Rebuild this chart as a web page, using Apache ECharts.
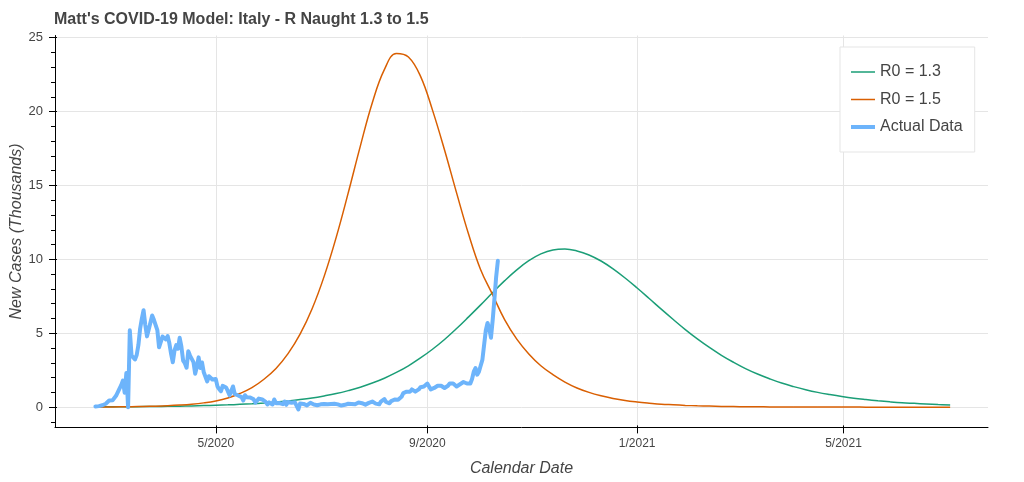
<!DOCTYPE html>
<html>
<head>
<meta charset="utf-8">
<script src="https://cdn.jsdelivr.net/npm/echarts@6/dist/echarts.min.js"></script>
<style>
html,body{margin:0;padding:0;background:#fff;}
#chart{width:1024px;height:482px;}
</style>
</head>
<body>
<div id="chart"></div>
<script>
// ---------- data ----------
const chartTitle = "Matt's COVID-19 Model: Italy - R Naught 1.3 to 1.5";
const seriesNames = ['R0 = 1.3', 'R0 = 1.5', 'Actual Data'];

// model curves: weekly samples starting at modelStart (thousands of cases)
const modelStart = '2020-02-21';
const modelStepDays = 7;
const r13Values = [
  0.017, 0.021, 0.025, 0.031, 0.038, 0.046, 0.057, 0.069, 0.085, 0.104,
  0.127, 0.155, 0.189, 0.231, 0.283, 0.344, 0.42, 0.51, 0.62, 0.76,
  0.92, 1.12, 1.35, 1.63, 1.96, 2.35, 2.80, 3.33, 3.92, 4.58,
  5.32, 6.11, 6.92, 7.76, 8.56, 9.29, 9.91, 10.37, 10.64, 10.70,
  10.57, 10.30, 9.89, 9.36, 8.74, 8.06, 7.35, 6.63, 5.93, 5.25,
  4.62, 4.04, 3.51, 3.04, 2.61, 2.24, 1.92, 1.63, 1.39, 1.18,
  1.00, 0.85, 0.715, 0.60, 0.51, 0.43, 0.36, 0.30, 0.257, 0.216,
  0.18, 0.153
];
const r15Values = [
  0.01, 0.015, 0.022, 0.032, 0.046, 0.067, 0.097, 0.14, 0.20, 0.29,
  0.42, 0.62, 0.92, 1.32, 1.89, 2.62, 3.62, 4.94, 6.66, 8.85,
  11.49, 14.5, 17.65, 20.6, 22.84, 23.94, 23.7, 22.4, 20.1, 17.4,
  14.5, 11.7, 9.3, 7.6, 5.9, 4.6, 3.6, 2.8, 2.2, 1.7,
  1.3, 1.0, 0.77, 0.59, 0.45, 0.35, 0.27, 0.2, 0.16, 0.12,
  0.09, 0.07, 0.05, 0.04, 0.03, 0.023, 0.018, 0.014, 0.01, 0.008,
  0.006, 0.005, 0.004, 0.003, 0.002, 0.002, 0.001, 0.001, 0.001, 0.001,
  0, 0
];

// actual daily new cases (thousands), one value per day from actualStart
const actualStart = '2020-02-21';
const actualValues = [
  // Feb 21 - Feb 29
  0.04, 0.09, 0.07, 0.09, 0.13, 0.20, 0.23, 0.24, 0.45,
  // Mar
  0.34, 0.47, 0.59, 0.77, 0.78, 1.25, 1.49, 1.80, 0.98, 2.31,
  0, 5.20, 3.50, 3.59, 3.23, 3.53, 4.21, 5.32, 5.99, 6.56,
  5.56, 4.79, 5.25, 5.21, 6.20, 5.91, 5.97, 5.22, 4.05, 4.05, 4.78,
  // Apr
  4.67, 4.59, 4.81, 4.32, 3.60, 3.04, 3.84, 4.20, 3.95, 4.69,
  4.09, 3.15, 2.97, 2.67, 3.79, 3.49, 3.49, 3.05, 2.26, 2.73,
  3.37, 2.65, 3.02, 2.36, 2.32, 1.74, 2.09, 2.09, 1.87, 1.97,
  // May
  1.90, 1.39, 1.22, 1.08, 1.44, 1.40, 1.33, 1.08, 0.80, 0.74,
  1.40, 0.89, 0.99, 0.79, 0.88, 0.68, 0.45, 0.81, 0.67, 0.64,
  0.65, 0.67, 0.53, 0.30, 0.40, 0.58, 0.59, 0.52, 0.42, 0.36, 0.18,
  // Jun
  0.32, 0.32, 0.18, 0.52, 0.27, 0.20, 0.28, 0.28, 0.20, 0.38,
  0.16, 0.35, 0.34, 0.30, 0.21, 0.33, 0.33, -0.15, 0.25, 0.26,
  0.22, 0.22, 0.12, 0.19, 0.30, 0.26, 0.18, 0.17, 0.13, 0.14,
  // Jul
  0.19, 0.20, 0.22, 0.24, 0.19, 0.14, 0.21, 0.19, 0.23, 0.28,
  0.19, 0.17, 0.11, 0.17, 0.16, 0.23, 0.23, 0.22, 0.22, 0.13,
  0.19, 0.28, 0.31, 0.25, 0.27, 0.25, 0.17, 0.21, 0.29, 0.38, 0.38,
  // Aug
  0.29, 0.24, 0.16, 0.19, 0.38, 0.40, 0.55, 0.35, 0.46, 0.26,
  0.41, 0.48, 0.52, 0.60, 0.50, 0.45, 0.70, 0.95, 1.00, 1.05,
  1.10, 1.05, 1.20, 1.30, 1.05, 0.95, 1.20, 1.35, 1.40, 1.40, 1.50,
  // Sep
  1.60, 1.40, 1.20, 1.17, 1.30, 1.40, 1.45, 1.50, 1.45, 1.35,
  1.30, 1.30, 1.45, 1.60, 1.73, 1.60, 1.50, 1.40, 1.45, 1.55,
  1.65, 1.70, 1.73, 1.60, 1.50, 1.60, 1.90, 2.40, 2.65, 2.20,
  // Oct 1 - Oct 12
  2.40, 2.80, 3.20, 4.20, 5.20, 5.70, 5.30, 4.70, 5.90, 7.30, 8.80, 9.90
];

const xTickDates = ['2020-05-01', '2020-09-01', '2021-01-01', '2021-05-01'];
const xTickLabels = ['5/2020', '9/2020', '1/2021', '5/2021'];
const yTicks = [0, 5, 10, 15, 20, 25];
const yMinorTicks = [-1, 1, 2, 3, 4, 6, 7, 8, 9, 11, 12, 13, 14, 16, 17, 18, 19, 21, 22, 23, 24];
const xRange = ['2020-01-28T12:00:00Z', '2021-07-24T00:00:00Z'];
const yRange = [-1.37, 25.15];

// ---------- build ----------
const DAY = 86400000;
const ts = s => Date.parse(s.length === 10 ? s + 'T00:00:00Z' : s);
const modelT0 = ts(modelStart);
const actualT0 = ts(actualStart);
const r13Data = r13Values.map((v, i) => [modelT0 + i * modelStepDays * DAY, v]);
const r15Data = r15Values.map((v, i) => [modelT0 + i * modelStepDays * DAY, v]);
const actualData = actualValues.map((v, i) => [actualT0 + i * DAY, v]);
const xTickVals = xTickDates.map(ts);
const xMin = ts(xRange[0]), xMax = ts(xRange[1]);

const FONT = 'Liberation Sans, Arial, Helvetica, sans-serif';
const TXT = '#444444';
const AX = '#000000';
const GRID = '#e5e5e5';
const COLORS = ['#1b9e77', '#d95f02', '#6db4fb'];

// legend glyphs: horizontal line segments (thin for models, thick for data)
const THIN_ICON = 'path://M0,0L24,0Z M0,5.25h24v1.5h-24z M0,12L24,12Z';
const THICK_ICON = 'path://M0,0L24,0Z M0,4h24v4h-24z M0,12L24,12Z';

const xLabelFmt = v => {
  for (let i = 0; i < xTickVals.length; i++) if (Math.abs(xTickVals[i] - v) < 1000) return xTickLabels[i];
  return '';
};

const chart = echarts.init(document.getElementById('chart'), null, {renderer: 'canvas'});
chart.setOption({
  animation: false,
  backgroundColor: '#ffffff',
  title: {
    text: chartTitle, left: 54, top: 12, padding: 0,
    textStyle: {fontFamily: FONT, fontSize: 16, fontWeight: 'bold', color: TXT}
  },
  legend: {
    data: [
      {name: seriesNames[0], icon: THIN_ICON, itemStyle: {color: COLORS[0], borderWidth: 0}},
      {name: seriesNames[1], icon: THIN_ICON, itemStyle: {color: COLORS[1], borderWidth: 0}},
      {name: seriesNames[2], icon: THICK_ICON, itemStyle: {color: COLORS[2], borderWidth: 0}}
    ],
    orient: 'vertical', left: 840, top: 47,
    padding: [17, 12, 17, 11], itemGap: 11.5, itemWidth: 24, itemHeight: 12,
    borderColor: GRID, borderWidth: 1, backgroundColor: '#ffffff',
    textStyle: {fontFamily: FONT, fontSize: 16, color: TXT}
  },
  grid: {left: 55, right: 36, top: 35.5, bottom: 54.6, containLabel: false, outerBoundsMode: 'none'},
  xAxis: [
    {
      type: 'value', min: xMin, max: xMax, position: 'bottom',
      name: 'Calendar Date', nameLocation: 'middle', nameGap: 33, nameMoveOverlap: false,
      nameTextStyle: {fontFamily: FONT, fontSize: 16, fontStyle: 'italic', color: TXT},
      axisLine: {show: true, onZero: false, lineStyle: {color: AX, width: 1}},
      axisTick: {show: true, customValues: xTickVals, length: 6, lineStyle: {color: AX}},
      axisLabel: {show: true, customValues: xTickVals, formatter: xLabelFmt, margin: 10,
        fontFamily: FONT, fontSize: 12, color: TXT},
      splitLine: {show: true, lineStyle: {color: GRID, width: 1}}
    },
    {
      type: 'value', min: xMin, max: xMax, position: 'bottom', offset: 0,
      axisLine: {show: false, onZero: false},
      axisTick: {show: true, inside: true, customValues: xTickVals, length: 2, lineStyle: {color: AX}},
      axisLabel: {show: false}, splitLine: {show: false}
    }
  ],
  yAxis: [
    {
      type: 'value', min: yRange[0], max: yRange[1], position: 'left',
      name: 'New Cases (Thousands)', nameLocation: 'middle', nameGap: 30, nameMoveOverlap: false,
      nameTextStyle: {fontFamily: FONT, fontSize: 16, fontStyle: 'italic', color: TXT},
      axisLine: {show: true, onZero: false, lineStyle: {color: AX, width: 1}},
      axisTick: {show: true, customValues: yTicks, length: 6, lineStyle: {color: AX}},
      axisLabel: {show: true, customValues: yTicks, margin: 12,
        fontFamily: FONT, fontSize: 13, color: TXT},
      splitLine: {show: true, lineStyle: {color: GRID, width: 1}}
    },
    {
      type: 'value', min: yRange[0], max: yRange[1], position: 'left', offset: 0,
      axisLine: {show: false, onZero: false},
      axisTick: {show: true, customValues: yMinorTicks, length: 4, lineStyle: {color: AX}},
      axisLabel: {show: false}, splitLine: {show: false}
    },
    {
      type: 'value', min: yRange[0], max: yRange[1], position: 'left', offset: 0,
      axisLine: {show: false, onZero: false},
      axisTick: {show: true, inside: true, customValues: yTicks, length: 2, lineStyle: {color: AX}},
      axisLabel: {show: false}, splitLine: {show: false}
    }
  ],
  series: [
    {
      name: seriesNames[0], type: 'line', data: r13Data, symbol: 'none', showSymbol: false,
      smooth: 0.4, lineStyle: {color: COLORS[0], width: 1.5}, itemStyle: {color: COLORS[0]}
    },
    {
      name: seriesNames[1], type: 'line', data: r15Data, symbol: 'none', showSymbol: false,
      smooth: 0.4, lineStyle: {color: COLORS[1], width: 1.5}, itemStyle: {color: COLORS[1]}
    },
    {
      name: seriesNames[2], type: 'line', data: actualData, symbol: 'none', showSymbol: false,
      lineStyle: {color: COLORS[2], width: 4, join: 'round', cap: 'round'}, itemStyle: {color: COLORS[2]}
    }
  ]
});
</script>
</body>
</html>
